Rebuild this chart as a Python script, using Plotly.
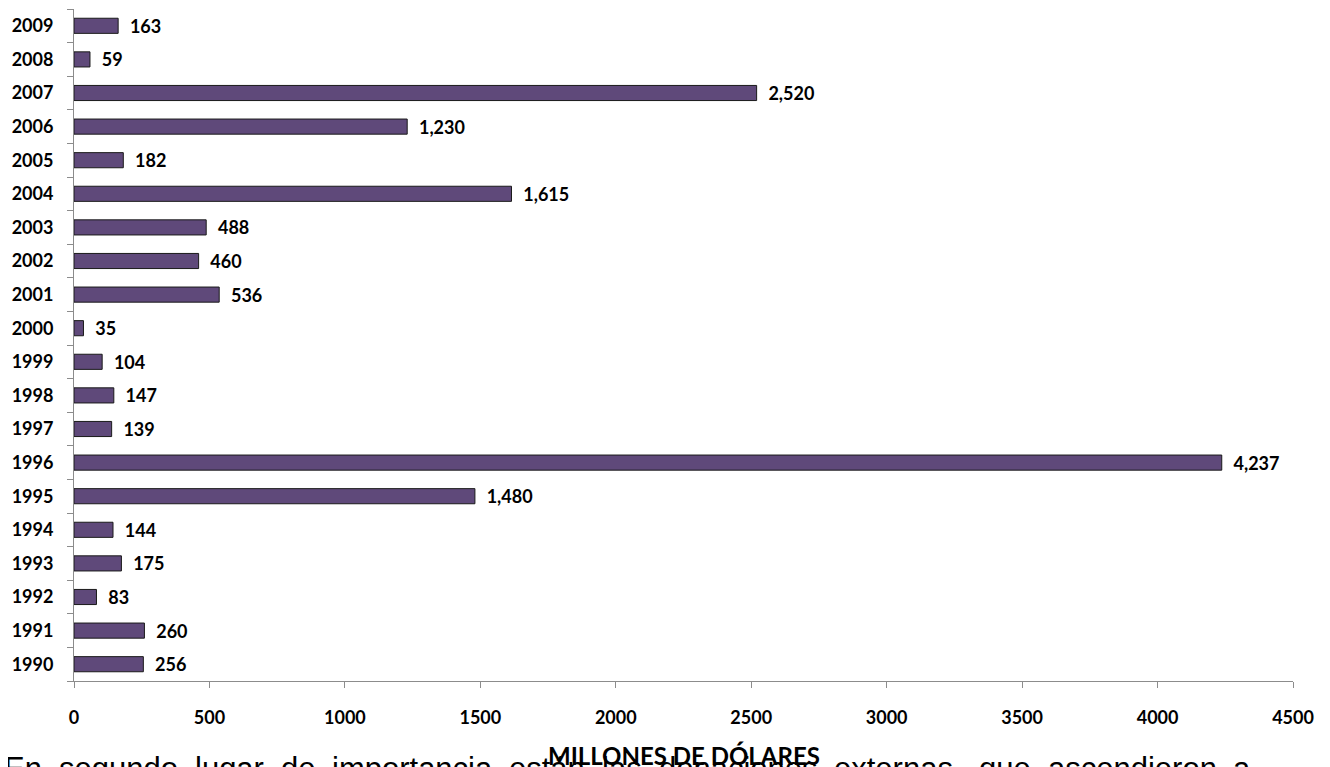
import plotly.graph_objects as go

years = [str(y) for y in range(1990, 2010)]
values = [256, 260, 83, 175, 144, 1480, 4237, 139, 147, 104,
          35, 536, 460, 488, 1615, 182, 1230, 2520, 59, 163]
x_ticks = [0, 500, 1000, 1500, 2000, 2500, 3000, 3500, 4000, 4500]
axis_title = "MILLONES DE DÓLARES"
body_words = ["En", "segundo", "lugar", "de", "importancia", "están", "las",
              "donaciones", "externas,", "que", "ascendieron", "a"]
# left edge of each word on screen (px) – justified line of the surrounding document
word_px = [2, 57, 193, 279, 330, 507, 600, 657, 832, 977, 1046, 1231]

OFF = 8  # page body margin
W, H = 1330, 767
L, R, T, B = 74 - OFF, 45, 9 - OFF, 767 - (681 - OFF)
pw = W - L - R
ph = H - T - B


def px_to_paper_x(px):
    return (px - OFF - L) / pw


def px_to_paper_y(py):
    return (H - B - (py - OFF)) / ph


FONT = "Lato"
labels = ["\u00a0\u00a0" + f"{v:,}" for v in values]

fig = go.Figure()
fig.add_trace(go.Bar(
    y=years, x=values, orientation="h",
    marker=dict(color="#5F497A", line=dict(color="#1a1a1a", width=1)),
    text=labels, textposition="outside", cliponaxis=False,
    constraintext="none",
    textfont=dict(family=FONT, size=18, color="black", weight="bold"),
    hoverinfo="skip",
))

annotations = []
for w, px in zip(body_words, word_px):
    annotations.append(dict(
        text=w, xref="paper", yref="paper",
        x=px_to_paper_x(px), y=px_to_paper_y(749), xanchor="left", yanchor="top",
        showarrow=False, font=dict(family="Liberation Sans", size=31, color="black"),
    ))
annotations.append(dict(
    text="<b>" + axis_title + "</b>", xref="paper", yref="paper",
    x=0.5, y=px_to_paper_y(755), xanchor="center", yanchor="middle",
    showarrow=False, font=dict(family=FONT, size=24, color="black"),
))

fig.update_layout(
    width=W, height=H,
    margin=dict(l=L, r=R, t=T, b=B, autoexpand=False),
    paper_bgcolor="white", plot_bgcolor="white",
    showlegend=False, bargap=0.55,
    xaxis=dict(
        range=[0, 4500], tickvals=x_ticks, ticktext=[str(t) for t in x_ticks],
        showgrid=False, zeroline=False, automargin=False,
        showline=True, linecolor="#8c8c8c", linewidth=1,
        ticks="outside", ticklen=6, tickcolor="#8c8c8c",
        ticklabelstandoff=14,
        tickfont=dict(family=FONT, size=18, color="black", weight="bold"),
    ),
    yaxis=dict(
        type="category", range=[-0.5, 19.5], automargin=False,
        showgrid=False, zeroline=False,
        showline=True, linecolor="#8c8c8c", linewidth=1,
        ticks="outside", ticklen=6, tickcolor="#8c8c8c", tickson="boundaries",
        ticklabelstandoff=16,
        tickfont=dict(family=FONT, size=18, color="black", weight="bold"),
    ),
    annotations=annotations,
)

fig.write_html("out.html")
